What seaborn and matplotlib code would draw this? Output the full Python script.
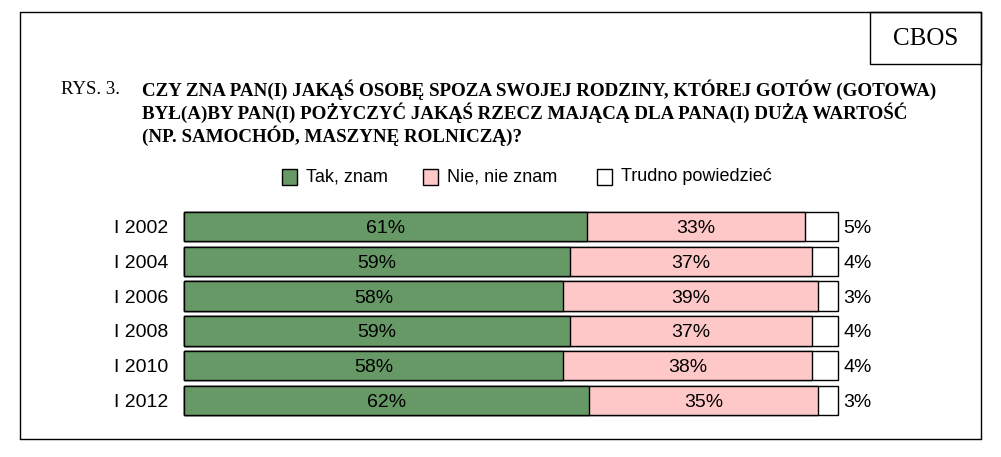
import seaborn as sns
import pandas as pd
import numpy as np
import matplotlib.pyplot as plt
from matplotlib.patches import Rectangle
from matplotlib.lines import Line2D

years = ["I 2002", "I 2004", "I 2006", "I 2008", "I 2010", "I 2012"]
tak = [61, 59, 58, 59, 58, 62]
nie = [33, 37, 39, 37, 38, 35]
trudno = [5, 4, 3, 4, 4, 3]
legend_labels = ["Tak, znam", "Nie, nie znam", "Trudno powiedzieć"]
colors = ["#669966", "#ffc8c8", "#ffffff"]

title_lines = [
    "CZY ZNA PAN(I) JAKĄŚ OSOBĘ SPOZA SWOJEJ RODZINY, KTÓREJ GOTÓW (GOTOWA)",
    "BYŁ(A)BY PAN(I) POŻYCZYĆ JAKĄŚ RZECZ MAJĄCĄ DLA PANA(I) DUŻĄ WARTOŚĆ",
    "(NP. SAMOCHÓD, MASZYNĘ ROLNICZĄ)?",
]

df = pd.DataFrame({"rok": years, "tak": tak, "nie": nie, "trudno": trudno})
total = df[["tak", "nie", "trudno"]].sum(axis=1)
# each bar drawn to full width, as in the original
df["c1"] = df["tak"] / total * 100
df["c2"] = (df["tak"] + df["nie"]) / total * 100
df["c3"] = 100.0

sns.set_theme(style="white")
plt.rcParams["font.family"] = ["Liberation Sans", "DejaVu Sans"]
plt.rcParams["text.color"] = "black"

W, H = 1001, 457
fig = plt.figure(figsize=(W / 100, H / 100), dpi=100)


def fx(px):
    return px / W


def fy(py):
    return 1 - py / H


ax = fig.add_axes([fx(184), fy(415), fx(838) - fx(184), fy(212) - fy(415)])

for col, c in zip(["c3", "c2", "c1"], colors[::-1]):
    sns.barplot(data=df, x=col, y="rok", orient="h", color=c, edgecolor="black",
                linewidth=1.0, width=0.85, saturation=1, ax=ax)
for p in ax.patches:
    p.set_clip_on(False)

ax.set_xlim(0, 100)
ax.set_ylim(5.425, -0.425)
ax.set_xlabel("")
ax.set_ylabel("")
ax.set_xticks([])
for s in ax.spines.values():
    s.set_visible(False)
ax.tick_params(axis="y", length=0, pad=11, labelsize=14, labelcolor="black")

for i, row in df.iterrows():
    ax.text(row["c1"] / 2, i, f"{row['tak']}%", ha="center", va="center_baseline", fontsize=14)
    ax.text((row["c1"] + row["c2"]) / 2, i, f"{row['nie']}%", ha="center",
            va="center_baseline", fontsize=14)
    ax.text(100.8, i, f"{row['trudno']}%", ha="left", va="center_baseline", fontsize=14)

# frame around the figure
fig.add_artist(Line2D([fx(20), fx(981)], [fy(12), fy(12)], color="black", lw=1))
fig.add_artist(Line2D([fx(20), fx(20)], [fy(12), fy(439)], color="black", lw=1))
fig.add_artist(Line2D([fx(20), fx(981)], [fy(439), fy(439)], color="black", lw=1))
fig.add_artist(Line2D([fx(981), fx(981)], [fy(12), fy(439)], color="black", lw=1))
fig.add_artist(Rectangle((fx(870), fy(64)), fx(981) - fx(870), fy(12) - fy(64),
                         transform=fig.transFigure, fill=False, edgecolor="black", lw=1))
fig.text(fx(926), fy(39), "CBOS", ha="center", va="center", fontsize=18,
         family="Liberation Serif")

fig.text(fx(61), fy(90), "RYS. 3.", ha="left", va="center", fontsize=13.5,
         family="Liberation Serif")
for k, line in enumerate(title_lines):
    fig.text(fx(142), fy(90 + 23 * k), line, ha="left", va="center", fontsize=13.7,
             family="Liberation Serif", weight="bold")

# legend
leg_x = [282, 423, 597]
for x0, lab, c in zip(leg_x, legend_labels, colors):
    fig.add_artist(Rectangle((fx(x0), fy(185)), fx(15), fy(0) - fy(16),
                             transform=fig.transFigure, facecolor=c,
                             edgecolor="black", lw=1))
    fig.text(fx(x0 + 24), fy(177), lab, ha="left", va="center", fontsize=13)

fig.savefig("out.png", dpi=100)
